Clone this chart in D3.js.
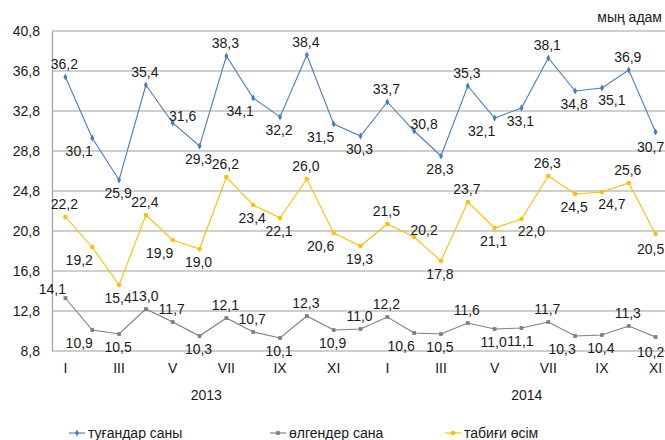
<!DOCTYPE html>
<html>
<head>
<meta charset="utf-8">
<script src="https://cdn.jsdelivr.net/npm/d3@7"></script>
<style>
  body { margin: 0; background: #fff; }
  text { font-family: "Liberation Sans", Arial, sans-serif; fill: #1a1a1a; }
</style>
</head>
<body>
<div id="chart"></div>
<script>
(function() {
  // months, Jan 2013 .. Nov 2014
  var months = ["I","II","III","IV","V","VI","VII","VIII","IX","X","XI","XII",
                "I","II","III","IV","V","VI","VII","VIII","IX","X","XI"];
  var years = ["2013", "2014"];
  var yTicks = [8.8, 12.8, 16.8, 20.8, 24.8, 28.8, 32.8, 36.8, 40.8];

  var births = [36.2, 30.1, 25.9, 35.4, 31.6, 29.3, 38.3, 34.1, 32.2, 38.4, 31.5, 30.3,
                33.7, 30.8, 28.3, 35.3, 32.1, 33.1, 38.1, 34.8, 35.1, 36.9, 30.7];
  var deaths = [14.1, 10.9, 10.5, 13.0, 11.7, 10.3, 12.1, 10.7, 10.1, 12.3, 10.9, 11.0,
                12.2, 10.6, 10.5, 11.6, 11.0, 11.1, 11.7, 10.3, 10.4, 11.3, 10.2];
  var growth = [22.2, 19.2, 15.4, 22.4, 19.9, 19.0, 26.2, 23.4, 22.1, 26.0, 20.6, 19.3,
                21.5, 20.2, 17.8, 23.7, 21.1, 22.0, 26.3, 24.5, 24.7, 25.6, 20.5];

  // where each data label sits relative to its point
  var birthsPos = ["t","bl","b","t","tr","b","t","bl","b","t","bl","b",
                   "t","tr","b","t","bl","b","t","b","br","t","bs"];
  var growthPos = ["t","bl","b","t","bl","b","t","b","b","t","bl","b",
                   "t","tr","b","t","b","br","t","b","br","t","bs"];
  var deathsPos = ["tl","bl","b","t","t","b","t","t","b","t","b","t",
                   "t","bl","b","t","b","b","t","bl","b","t","bs"];

  var W = 665, H = 440;
  var margin = { top: 31, left: 52, right: -4, bottom: 89 };
  var width = W - margin.left - margin.right,
      height = H - margin.top - margin.bottom;

  var svg = d3.select("#chart").append("svg")
    .attr("width", W).attr("height", H);

  var g = svg.append("g")
    .attr("transform", "translate(" + margin.left + "," + margin.top + ")");

  var x = d3.scaleBand()
    .domain(d3.range(months.length))
    .range([0, width]);
  var cx = function(i) { return x(i) + x.bandwidth() / 2; };

  var y = d3.scaleLinear()
    .domain([8.8, 40.8])
    .range([height, 0]);

  var fmt = function(v) { return d3.format(".1f")(v).replace(".", ","); };

  // gridlines
  g.selectAll(".grid")
    .data(yTicks)
    .enter().append("line")
    .attr("x1", 0).attr("x2", W - margin.left)
    .attr("y1", function(d) { return y(d); })
    .attr("y2", function(d) { return y(d); })
    .attr("stroke", "#a0a0a0")
    .attr("stroke-width", 1.2);

  // left axis
  var yAxis = d3.axisLeft(y).tickValues(yTicks).tickSize(0).tickPadding(12).tickFormat(fmt);
  g.append("g")
    .attr("class", "axis y-axis")
    .call(yAxis)
    .call(function(s) {
      s.select(".domain").attr("stroke", "#a0a0a0").attr("stroke-width", 1.2);
      s.selectAll("text").attr("font-size", 14).attr("fill", "#1a1a1a")
        .attr("font-family", "Liberation Sans, Arial, sans-serif");
    });

  // month labels
  g.selectAll(".month")
    .data(months)
    .enter().append("text")
    .filter(function(d, i) { return i % 2 === 0; })
    .attr("x", function(d, i) { return cx(i * 2); })
    .attr("y", height + 17)
    .attr("dy", "0.35em")
    .attr("text-anchor", "middle")
    .attr("font-size", 14)
    .text(function(d) { return d; });

  // year labels
  var idx = d3.scaleLinear().domain([0, 1]).range([cx(0), cx(1)]);
  var yearAt = [5.25, 17.2];
  g.selectAll(".year")
    .data(years)
    .enter().append("text")
    .attr("x", function(d, i) { return idx(yearAt[i]); })
    .attr("y", height + 44)
    .attr("dy", "0.35em")
    .attr("text-anchor", "middle")
    .attr("font-size", 14)
    .text(function(d) { return d; });

  var offsets = {
    t:  [-1, -13], b: [-1, 13],
    tl: [-13, -9], tr: [10, -7],
    bl: [-13, 13], br: [10, 12],
    bs: [-5, 15]
  };

  var series = [
    { name: "туғандар саны", values: births, pos: birthsPos, color: "#4a7ebb", marker: d3.symbolDiamond, size: 14 },
    { name: "өлгендер сана", values: deaths, pos: deathsPos, color: "#7f7f7f", marker: d3.symbolSquare, size: 14 },
    { name: "табиғи өсім", values: growth, pos: growthPos, color: "#ffc000", marker: d3.symbolCircle, size: 16 }
  ];

  var line = d3.line()
    .x(function(d, i) { return cx(i); })
    .y(function(d) { return y(d); });

  series.forEach(function(s) {
    g.append("path")
      .datum(s.values)
      .attr("d", line)
      .attr("fill", "none")
      .attr("stroke", s.color)
      .attr("stroke-width", 1.1);

    g.selectAll(null)
      .data(s.values)
      .enter().append("path")
      .attr("d", d3.symbol().type(s.marker).size(s.size))
      .attr("transform", function(d, i) { return "translate(" + cx(i) + "," + y(d) + ")"; })
      .attr("fill", s.color);

    g.selectAll(null)
      .data(s.values)
      .enter().append("text")
      .attr("x", function(d, i) { return cx(i) + offsets[s.pos[i]][0]; })
      .attr("y", function(d, i) { return y(d) + offsets[s.pos[i]][1]; })
      .attr("dy", "0.35em")
      .attr("text-anchor", "middle")
      .attr("font-size", 14)
      .text(fmt);
  });

  // unit label
  svg.append("text")
    .attr("x", 662).attr("y", 17)
    .attr("dy", "0.35em")
    .attr("text-anchor", "end")
    .attr("font-size", 14)
    .text("мың адам");

  // legend
  var legendX = [69, 270, 445];
  var legend = svg.selectAll(".legend")
    .data(series)
    .enter().append("g")
    .attr("transform", function(d, i) { return "translate(" + legendX[i] + ",433)"; });

  legend.append("line")
    .attr("x1", 0).attr("x2", 16)
    .attr("stroke", function(d) { return d.color; })
    .attr("stroke-width", 1.1);
  legend.append("path")
    .attr("d", function(d) { return d3.symbol().type(d.marker).size(d.size)(); })
    .attr("transform", "translate(8,0)")
    .attr("fill", function(d) { return d.color; });
  legend.append("text")
    .attr("x", 19)
    .attr("dy", "0.35em")
    .attr("font-size", 14)
    .text(function(d) { return d.name; });
})();
</script>
</body>
</html>
